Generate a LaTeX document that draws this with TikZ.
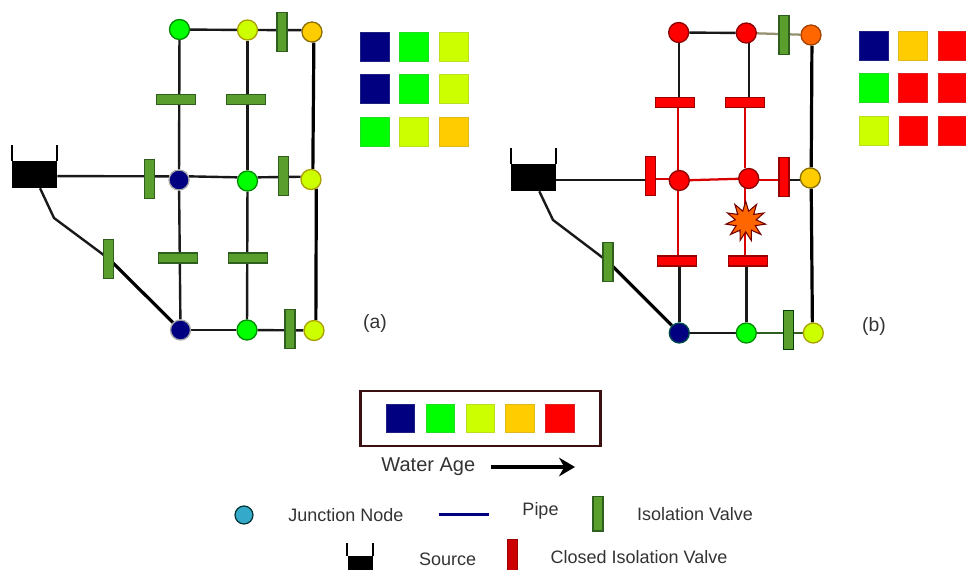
\documentclass[tikz,border=0pt]{standalone}
\usepackage{fontspec}
\setmainfont{Liberation Sans}
\usetikzlibrary{arrows.meta,backgrounds,shapes.geometric}
\definecolor{cnavy}{HTML}{000080}
\definecolor{cgreen}{HTML}{00FF00}
\definecolor{cyel}{HTML}{CCFF00}
\definecolor{camb}{HTML}{FFCC00}
\definecolor{cred}{HTML}{FF0000}
\definecolor{corg}{HTML}{FF6600}
\definecolor{vgreen}{HTML}{5A9E2E}
\definecolor{vdark}{HTML}{2F5F1E}
\definecolor{bbox}{HTML}{3A1010}
\definecolor{txt}{HTML}{333333}
\definecolor{cjunc}{HTML}{35A9C9}
\tikzset{
  junc/.style n args={2}{circle,inner sep=0pt,minimum size=15pt,line width=1pt,fill=#1,draw=#2},
  gj/.style={junc={cgreen}{green!55!black}},
  yj/.style={junc={cyel}{olive!75!yellow}},
  aj/.style={junc={camb}{camb!55!black}},
  oj/.style={junc={corg}{corg!65!black}},
  rj/.style={junc={cred}{cred!55!black}},
  nj/.style={junc={cnavy}{gray!70}},
  ntj/.style={junc={cnavy}{teal!60!black}},
  valve/.style={rectangle,inner sep=0pt,line width=.9pt,fill=vgreen,draw=vdark,minimum width=7.5pt,minimum height=29.25pt},
  hvalve/.style={rectangle,inner sep=0pt,line width=.9pt,fill=vgreen,draw=vdark,minimum width=29.25pt,minimum height=7.5pt},
  rvalve/.style={valve,fill=cred,draw=cred!60!black},
  rhvalve/.style={hvalve,fill=cred,draw=cred!60!black},
  tank/.style={rectangle,inner sep=0pt,fill=black,minimum width=33.75pt,minimum height=20.25pt},
  wall/.style={line width=1.5pt,black},
  pipe/.style={line width=1.8pt,black!90},
  main/.style={line width=2.4pt,black},
  rpipe/.style={line width=1.7pt,red!85!black},
  sq/.style={rectangle,inner sep=0pt,minimum size=21.5pt,line width=.7pt,fill=#1,draw=#1!75!gray},
  lbl/.style={inner sep=0pt,text=txt,font=\fontsize{13}{15}\selectfont},
}
\begin{document}
\begin{tikzpicture}[x=.75pt,y=-.75pt]
\useasboundingbox (0,0) rectangle (966,570);
% ---------- network (a)
\node[gj] (la) at (179.5,29.5) {};
\node[yj] (lb) at (247.5,30) {};
\node[aj] (lc) at (312,32) {};
\node[nj] (ld) at (179,180) {};
\node[gj] (le) at (247.5,181) {};
\node[yj] (lf) at (311,179.5) {};
\node[nj] (lg) at (180.5,330) {};
\node[gj] (lh) at (247,330) {};
\node[yj] (li) at (314,330.5) {};
\node[valve] (lvtop) at (282,31.7) {};
\node[hvalve] (lvu) at (175.7,99.3) {};
\node[hvalve] (lvv) at (246,99.3) {};
\node[valve] (lvm) at (149.3,179) {};
\node[valve] (lvn) at (283.7,176.3) {};
\node[hvalve] (lvs) at (178,258) {};
\node[hvalve] (lvt) at (248.3,258) {};
\node[valve] (lvd) at (108.7,258.7) {};
\node[valve] (lvb) at (290,329) {};
\node[tank] (lt) at (34.5,174.5) {};
\coordinate (lbend) at (54,218);
\draw[wall] (lt.north west) -- +(0,-16);
\draw[wall] (lt.north east) -- +(0,-16);
\begin{scope}[on background layer]
\draw[pipe] (la) -- (lb);
\draw[pipe] (lb) -- (lc.170);
\draw[pipe] (la) -- (ld);
\draw[pipe] (lb) -- (le);
\draw[main] (lc.-80) -- (lf.80);
\draw[pipe] (lt.-4) -- (ld.160);
\draw[pipe] (ld.20) -- (le.160);
\draw[pipe] (le.20) -- (lf.165);
\draw[pipe] (ld) -- (lg);
\draw[pipe] (le) -- (lh);
\draw[main] (lf.-60) -- (li.80);
\draw[pipe] (lg) -- (lh);
\draw[pipe] (lh) -- (li);
\draw[pipe] (lt.-68) -- (lbend) -- (lvd.center);
\draw[main] (lvd.center) -- (lg);
\end{scope}
% ---------- network (b)
\node[rj] (ra) at (678.7,32.5) {};
\node[rj] (rb) at (746.3,33) {};
\node[oj] (rc) at (811,35) {};
\node[rj] (rd) at (679.3,180.5) {};
\node[rj] (re) at (748.7,178.5) {};
\node[aj] (rf) at (810.3,178) {};
\node[ntj] (rg) at (679.3,333) {};
\node[gj] (rh) at (746.3,333) {};
\node[yj] (ri) at (813.3,333) {};
\node[valve] (rvtop) at (784,35) {};
\node[rhvalve] (rvu) at (674.7,102.3) {};
\node[rhvalve] (rvv) at (745.3,102.3) {};
\node[rvalve] (rvm) at (650.7,176.3) {};
\node[rvalve] (rvn) at (784,177) {};
\node[rhvalve] (rvs) at (677.3,261) {};
\node[rhvalve] (rvt) at (747.7,261) {};
\node[valve] (rvd) at (608,261.7) {};
\node[valve,draw=black!75!green] (rvb) at (788.3,330.3) {};
\node[tank] (rt) at (533.7,177.5) {};
\coordinate (rbend) at (553,220);
\node[star,star points=11,star point ratio=1.9,inner sep=0pt,minimum size=30pt,line width=.8pt,fill=corg,draw=cred!45!black] (burst) at (745.7,221.3) {};
\draw[wall] (rt.north west) -- +(0,-16);
\draw[wall] (rt.north east) -- +(0,-16);
\begin{scope}[on background layer]
\draw[pipe] (ra) -- (rb);
\draw[line width=1.7pt,black!60!olive!60] (rb) -- (rc);
\draw[pipe] (ra) -- (ra |- rvu);
\draw[pipe] (rb.-75) -- (rb.-75 |- rvv);
\draw[main] (rc.-85) -- (rf.85);
\draw[pipe] (rt.-6) -- (rt.-6 -| rvm);
\draw[rpipe] (rd.170 -| rvm) -- (rd.170);
\draw[rpipe] (rd) -- (re);
\draw[rpipe] (re.-10) -- (re.-10 -| rvn);
\draw[pipe] (rf.190 -| rvn) -- (rf.190);
\draw[rpipe] (rd.96) -- (rd.96 |- rvu);
\draw[rpipe] (re.110) -- (re.110 |- rvv);
\draw[rpipe] (rd.-96) -- (rd.-96 |- rvs);
\draw[rpipe] (re.-112) -- (re.-112 |- rvt);
\draw[pipe] (rg) -- (rg |- rvs);
\draw[pipe] (rh) -- (rh |- rvt);
\draw[main] (rf.-85) -- (ri.95);
\draw[pipe] (rg) -- (rh);
\draw[line width=1.7pt,vdark] (rh) -- (ri);
\draw[pipe] (rt.-68) -- (rbend) -- (rvd.center);
\draw[main] (rvd.center) -- (rg);
\end{scope}
% ---------- colour grids
\node[sq=cnavy] (sa) at (374.7,47.3) {};
\node[sq=cgreen] (sb) at (414,47.3) {};
\node[sq=cyel] (sc) at (453.7,47.3) {};
\node[sq=cnavy] (sd) at (374.7,89.3) {};
\node[sq=cgreen] (se) at (414,89.3) {};
\node[sq=cyel] (sf) at (453.7,89.3) {};
\node[sq=cgreen] (sg) at (374.7,131.7) {};
\node[sq=cyel] (sh) at (414,131.7) {};
\node[sq=camb] (si) at (453.7,131.7) {};
\node[sq=cnavy] (ta) at (873.7,46) {};
\node[sq=camb] (tb) at (913,46) {};
\node[sq=cred] (tc) at (952.5,46) {};
\node[sq=cgreen] (td) at (873.7,88) {};
\node[sq=cred] (te) at (913,88) {};
\node[sq=cred] (tf) at (952.5,88) {};
\node[sq=cyel] (tg) at (874,130.7) {};
\node[sq=cred] (th) at (913.3,130.7) {};
\node[sq=cred] (ti) at (952.5,130.7) {};
\node[lbl,font=\fontsize{14.5}{16}\selectfont] (capa) at (375,323.5) {(a)};
\node[lbl,font=\fontsize{14.5}{16}\selectfont] (capb) at (874,326) {(b)};
% ---------- legend
\node[rectangle,inner sep=0pt,minimum width=180pt,minimum height=41pt,line width=1.6pt,draw=bbox] (frame) at (480.5,418.5) {};
\node[sq=cnavy] (ka) at (400.3,418.5) {};
\node[sq=cgreen] (kb) at (440.3,418.5) {};
\node[sq=cyel] (kc) at (480.3,418.5) {};
\node[sq=camb] (kd) at (520,418.5) {};
\node[sq=cred] (ke) at (559.7,418.5) {};
\node[lbl,font=\fontsize{15}{17}\selectfont] (age) at (428.3,467) {Water Age};
\coordinate (agetip) at (575,467);
\coordinate (agetail) at (490.7,467);
\draw[line width=2.4pt,-{Stealth[length=12pt,width=14pt,inset=4pt]}] (agetail) -- (agetip);
\node[circle,inner sep=0pt,minimum size=13.5pt,line width=.9pt,fill=cjunc,draw=teal!40!black] (kj) at (244,515) {};
\node[lbl,font=\fontsize{13.5}{15}\selectfont] (kjt) at (346,515) {Junction Node};
\coordinate (kpa) at (438.6,514.3);
\coordinate (kpb) at (489,514.3);
\draw[line width=1.8pt,cnavy] (kpa) -- (kpb);
\node[lbl,font=\fontsize{13.5}{15}\selectfont] (kpt) at (540.5,511) {Pipe};
\node[valve,minimum height=26pt] (kv) at (598,513.7) {};
\node[lbl,font=\fontsize{13.5}{15}\selectfont] (kvt) at (695,514) {Isolation Valve};
\node[rectangle,inner sep=0pt,fill=black,minimum width=19pt,minimum height=10.7pt] (ks) at (360.2,562.9) {};
\draw[wall] (ks.north west) -- +(0,-13);
\draw[wall] (ks.north east) -- +(0,-13);
\node[lbl,font=\fontsize{13.5}{15}\selectfont] (kst) at (447.6,559) {Source};
\node[rectangle,inner sep=0pt,line width=.5pt,fill=red!80!black,draw=red!60!black,minimum width=7.5pt,minimum height=23pt] (kr) at (512,554.5) {};
\node[lbl,font=\fontsize{13.5}{15}\selectfont] (krt) at (639,557) {Closed Isolation Valve};
\end{tikzpicture}
\end{document}
